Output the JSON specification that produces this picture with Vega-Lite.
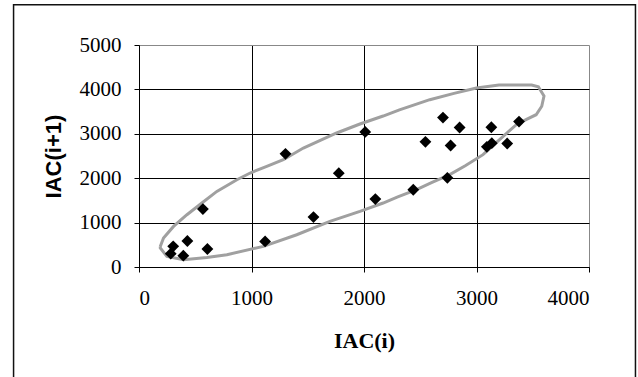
{
  "$schema": "https://vega.github.io/schema/vega-lite/v6.json",
  "width": 450,
  "height": 222,
  "autosize": {"type": "none"},
  "padding": {"left": 139, "top": 45, "right": 49, "bottom": 110},
  "background": "white",
  "config": {
    "view": {"stroke": null},
    "axis": {
      "grid": true,
      "gridColor": "#000000",
      "gridWidth": 1,
      "domainColor": "#000000",
      "tickColor": "#000000",
      "tickSize": 5,
      "labelFont": "Liberation Serif",
      "labelFontSize": 21,
      "labelColor": "#000000",
      "titleColor": "#000000",
      "format": "d"
    }
  },
  "datasets": {
    "pts": [
      {"x": 282, "y": 300}, {"x": 304, "y": 465}, {"x": 394, "y": 255}, {"x": 430, "y": 585},
      {"x": 568, "y": 1304}, {"x": 608, "y": 405}, {"x": 1121, "y": 577}, {"x": 1302, "y": 2549},
      {"x": 1551, "y": 1124}, {"x": 1776, "y": 2114}, {"x": 2011, "y": 3043}, {"x": 2101, "y": 1529},
      {"x": 2438, "y": 1739}, {"x": 2546, "y": 2819}, {"x": 2702, "y": 3366}, {"x": 2741, "y": 2009},
      {"x": 2770, "y": 2736}, {"x": 2850, "y": 3141}, {"x": 3092, "y": 2706}, {"x": 3136, "y": 2789},
      {"x": 3132, "y": 3148}, {"x": 3273, "y": 2781}, {"x": 3378, "y": 3276}
    ],
    "ell": [
      {"i": 0, "x": 189, "y": 460}, {"i": 1, "x": 218, "y": 653}, {"i": 2, "x": 307, "y": 914},
      {"i": 3, "x": 426, "y": 1178}, {"i": 4, "x": 559, "y": 1441}, {"i": 5, "x": 692, "y": 1703},
      {"i": 6, "x": 870, "y": 1966}, {"i": 7, "x": 988, "y": 2117}, {"i": 8, "x": 1130, "y": 2260},
      {"i": 9, "x": 1283, "y": 2417}, {"i": 10, "x": 1461, "y": 2680}, {"i": 11, "x": 1757, "y": 3018},
      {"i": 12, "x": 1964, "y": 3221}, {"i": 13, "x": 2170, "y": 3400}, {"i": 14, "x": 2315, "y": 3538},
      {"i": 15, "x": 2585, "y": 3768}, {"i": 16, "x": 2800, "y": 3910}, {"i": 17, "x": 2999, "y": 4032},
      {"i": 18, "x": 3200, "y": 4100}, {"i": 19, "x": 3490, "y": 4100}, {"i": 20, "x": 3550, "y": 4060},
      {"i": 21, "x": 3600, "y": 3850}, {"i": 22, "x": 3580, "y": 3620}, {"i": 23, "x": 3530, "y": 3430},
      {"i": 24, "x": 3440, "y": 3320}, {"i": 25, "x": 3354, "y": 3205}, {"i": 26, "x": 3200, "y": 2860},
      {"i": 27, "x": 3058, "y": 2530}, {"i": 28, "x": 2900, "y": 2280}, {"i": 29, "x": 2762, "y": 2080},
      {"i": 30, "x": 2600, "y": 1900}, {"i": 31, "x": 2467, "y": 1741}, {"i": 32, "x": 2300, "y": 1580},
      {"i": 33, "x": 2170, "y": 1441}, {"i": 34, "x": 1964, "y": 1252}, {"i": 35, "x": 1697, "y": 1027},
      {"i": 36, "x": 1402, "y": 727}, {"i": 37, "x": 1106, "y": 464}, {"i": 38, "x": 781, "y": 277},
      {"i": 39, "x": 603, "y": 216}, {"i": 40, "x": 396, "y": 164}, {"i": 41, "x": 248, "y": 239},
      {"i": 42, "x": 189, "y": 428}, {"i": 43, "x": 189, "y": 460}
    ]
  },
  "layer": [
    {
      "data": {"values": [{"frame": 1}]},
      "mark": {"type": "rect", "fill": null, "stroke": "#111111", "strokeWidth": 1.5, "clip": false},
      "encoding": {
        "x": {"datum": -1115, "type": "quantitative", "scale": {"domain": [0, 4000], "nice": false}, "axis": {
          "values": [0, 1000, 2000, 3000, 4000],
          "format": "d",
          "title": "IAC(i)",
          "titleFont": "Liberation Serif",
          "titleFontSize": 22,
          "titleFontWeight": "bold",
          "titlePadding": 22,
          "labelPadding": 15,
          "gridColor": {"condition": {"test": "datum.value === 4000", "value": "#888888"}, "value": "#000000"}
        }},
        "x2": {"datum": 4413},
        "y": {"datum": 5908, "type": "quantitative", "scale": {"domain": [0, 5000], "nice": false}, "axis": {
          "values": [0, 1000, 2000, 3000, 4000, 5000],
          "format": "d",
          "title": "IAC(i+1)",
          "titleFont": "Liberation Sans",
          "titleFontSize": 22,
          "titleFontWeight": "bold",
          "titlePadding": 14,
          "labelPadding": 13,
          "gridColor": {"condition": {"test": "datum.value === 5000", "value": "#888888"}, "value": "#000000"}
        }},
        "y2": {"datum": -2700}
      }
    },
    {
      "data": {"name": "ell"},
      "mark": {"type": "line", "color": "#a0a0a0", "strokeWidth": 3, "interpolate": "linear"},
      "encoding": {
        "x": {"field": "x", "type": "quantitative"},
        "y": {"field": "y", "type": "quantitative"},
        "order": {"field": "i", "type": "quantitative"}
      }
    },
    {
      "data": {"name": "pts"},
      "mark": {"type": "point", "shape": "diamond", "filled": true, "color": "#000000", "size": 140, "opacity": 1},
      "encoding": {
        "x": {"field": "x", "type": "quantitative"},
        "y": {"field": "y", "type": "quantitative"}
      }
    }
  ]
}
